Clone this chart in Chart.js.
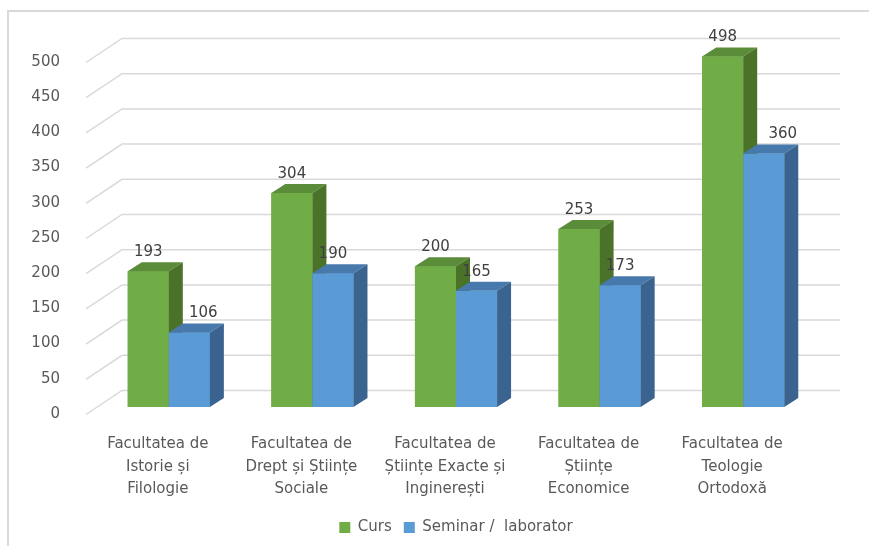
<!DOCTYPE html>
<html><head><meta charset="utf-8">
<script src="https://cdn.jsdelivr.net/npm/chart.js@4.4.0/dist/chart.umd.min.js"></script>
<style>html,body{margin:0;padding:0;background:#fff;overflow:hidden}canvas{display:block}</style>
</head><body><canvas id="c" width="869" height="546"></canvas>
<script>
const categories = [
  ['Facultatea de', 'Istorie și', 'Filologie'],
  ['Facultatea de', 'Drept și Științe', 'Sociale'],
  ['Facultatea de', 'Științe Exacte și', 'Inginerești'],
  ['Facultatea de', 'Științe', 'Economice'],
  ['Facultatea de', 'Teologie', 'Ortodoxă']
];
const seriesNames = ['Curs', 'Seminar /  laborator'];
const cursValues = [193, 304, 200, 253, 498];
const seminarValues = [106, 190, 165, 173, 360];
const yMin = 0, yMax = 500, yStep = 50;

const FONT = 'DejaVu Sans';
const DX = 14, DY = 9;              // bar depth
const BACK_DX = 25, BACK_DY = 16.5; // back wall offset from bar front plane
const WALL_DX = 36, WALL_DY = 24;   // side-wall depth
const faces = {
  front: ['#70AD47', '#5B9BD5'],
  top:   ['#5a8c39', '#4879ad'],
  side:  ['#4a7229', '#3a648f']
};

const bar3d = {
  id: 'bar3d',
  beforeDraw(chart) {
    const ctx = chart.ctx;
    ctx.save();
    ctx.strokeStyle = '#d9d9d9';
    ctx.lineWidth = 2;
    ctx.beginPath();
    ctx.moveTo(8, chart.height + 2);
    ctx.lineTo(8, 11);
    ctx.lineTo(chart.width + 2, 11);
    ctx.stroke();
    ctx.restore();
  },
  beforeDatasetsDraw(chart) {
    const ctx = chart.ctx, ys = chart.scales.y, a = chart.chartArea;
    ctx.save();
    ctx.strokeStyle = '#d9d9d9';
    ctx.lineWidth = 1.5;
    ys.ticks.forEach(t => {
      const y = ys.getPixelForValue(t.value) - BACK_DY;
      const bl = a.left + BACK_DX, br = a.right + BACK_DX;
      ctx.beginPath();
      ctx.moveTo(bl - WALL_DX, y + WALL_DY);
      ctx.lineTo(bl, y);
      ctx.lineTo(br, y);
      ctx.stroke();
    });
    ctx.restore();
  },
  afterDatasetsDraw(chart, args, opts) {
    const ctx = chart.ctx;
    const n = chart.data.labels.length;
    const nd = chart.data.datasets.length;
    ctx.save();
    for (let i = 0; i < n; i++) {
      for (let d = 0; d < nd; d++) {
        const el = chart.getDatasetMeta(d).data[i];
        const p = el.getProps(['x', 'y', 'base', 'width'], true);
        const L = p.x - p.width / 2, R = p.x + p.width / 2;
        ctx.fillStyle = faces.front[d];
        ctx.fillRect(L, p.y, R - L, p.base - p.y);
        ctx.fillStyle = faces.top[d];
        ctx.beginPath();
        ctx.moveTo(L, p.y); ctx.lineTo(L + DX, p.y - DY);
        ctx.lineTo(R + DX, p.y - DY); ctx.lineTo(R, p.y);
        ctx.closePath(); ctx.fill();
        ctx.fillStyle = faces.side[d];
        ctx.beginPath();
        ctx.moveTo(R, p.y); ctx.lineTo(R + DX, p.y - DY);
        ctx.lineTo(R + DX, p.base - DY); ctx.lineTo(R, p.base);
        ctx.closePath(); ctx.fill();
      }
    }
    ctx.font = '15px "' + FONT + '"';
    ctx.fillStyle = '#404040';
    ctx.textAlign = 'center';
    ctx.textBaseline = 'middle';
    const shifts = opts.labelShift || [];
    for (let d = 0; d < nd; d++) {
      const ds = chart.data.datasets[d];
      chart.getDatasetMeta(d).data.forEach((el, i) => {
        const p = el.getProps(['x', 'y'], true);
        const sh = (shifts[d] && shifts[d][i]) || 0;
        ctx.fillText(String(ds.data[i]), p.x + sh, p.y - 19);
      });
    }
    ctx.restore();
  }
};

new Chart(document.getElementById('c'), {
  type: 'bar',
  data: {
    labels: categories,
    datasets: [
      { label: seriesNames[0], data: cursValues, backgroundColor: faces.front[0], borderWidth: 0 },
      { label: seriesNames[1], data: seminarValues, backgroundColor: faces.front[1], borderWidth: 0 }
    ]
  },
  options: {
    responsive: false,
    animation: false,
    devicePixelRatio: 1,
    categoryPercentage: 0.572,
    barPercentage: 1,
    layout: { padding: { left: 30, right: 54, top: 55, bottom: 1 } },
    plugins: {
      tooltip: { enabled: false },
      legend: {
        position: 'bottom',
        fullSize: false,
        labels: {
          boxWidth: 11, boxHeight: 11, padding: 12,
          color: '#595959',
          font: { family: FONT, size: 15 }
        }
      },
      bar3d: { labelShift: [[0, 0, 0, 0, 0], [14, 0, 0, 0, 19]] }
    },
    scales: {
      x: {
        grid: { display: false },
        border: { display: false },
        ticks: {
          color: '#595959', padding: 18, labelOffset: -11, maxRotation: 0,
          autoSkip: false,
          font: { family: FONT, size: 15, lineHeight: 1.5 }
        },
        afterFit(scale) { scale.height = 101; }
      },
      y: {
        min: yMin, max: yMax,
        grid: { display: false },
        border: { display: false },
        ticks: {
          stepSize: yStep, color: '#595959', padding: 29, labelOffset: 7,
          font: { family: FONT, size: 15 }
        },
        afterFit(scale) { scale.width = 67; }
      }
    }
  },
  plugins: [bar3d]
});
</script>
</body></html>
